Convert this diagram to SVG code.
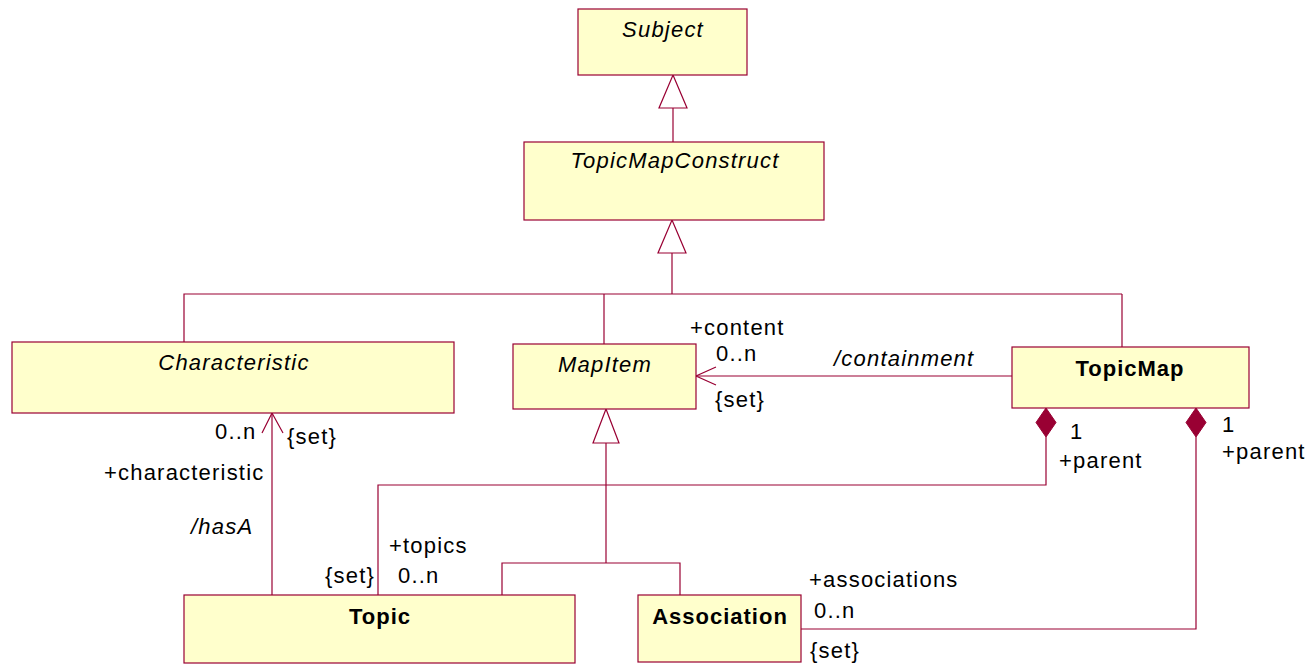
<svg xmlns="http://www.w3.org/2000/svg" width="1307" height="665" viewBox="0 0 1307 665">
<style>
.box{fill:#FFFFCC;stroke:#990033;stroke-width:1.2}
.ln{fill:none;stroke:#990033;stroke-width:1.2}
.tri{fill:#FFFFFF;stroke:#990033;stroke-width:1.2}
.dia{fill:#990033;stroke:#990033;stroke-width:1}
text{font-family:"Liberation Sans",Arial,sans-serif;font-size:22px;fill:#000;letter-spacing:1.2px}
.it{font-style:italic}
.b{font-weight:bold;letter-spacing:1px}
.c{text-anchor:middle}
</style>
<rect width="1307" height="665" fill="#FFFFFF"/>
<g id="connectors">
<!-- TopicMapConstruct -> Subject -->
<line class="ln" x1="673" y1="108" x2="673" y2="142"/>
<polygon class="tri" points="673,75 687,108 659,108"/>
<!-- children -> TopicMapConstruct -->
<polyline class="ln" points="184,342 184,294 1122,294"/>
<line class="ln" x1="604" y1="294" x2="604" y2="344"/>
<line class="ln" x1="1122" y1="294" x2="1122" y2="347"/>
<line class="ln" x1="672" y1="253" x2="672" y2="294"/>
<polygon class="tri" points="672,220 686,253 658,253"/>
<!-- Topic/Association -> MapItem -->
<polyline class="ln" points="502,595 502,563 680,563 680,595"/>
<line class="ln" x1="606" y1="443" x2="606" y2="563"/>
<polygon class="tri" points="606,409 619,443 593,443"/>
<!-- containment -->
<line class="ln" x1="696" y1="376" x2="1012" y2="376"/>
<polyline class="ln" points="716,367 696,376 716,385"/>
<!-- hasA -->
<line class="ln" x1="272" y1="413" x2="272" y2="595"/>
<polyline class="ln" points="262,433 272,413 283,433"/>
<!-- TopicMap - Topic -->
<polyline class="ln" points="1046,437 1046,485 378,485 378,595"/>
<polygon class="dia" points="1046,408 1056,422.5 1046,437 1036,422.5"/>
<!-- TopicMap - Association -->
<polyline class="ln" points="1196,437 1196,629 801,629"/>
<polygon class="dia" points="1196,408 1206,422.5 1196,437 1186,422.5"/>
<!-- labels -->
<text x="690" y="335">+content</text>
<text x="716" y="361">0..n</text>
<text x="715" y="407">{set}</text>
<text x="834" y="366" class="it">/containment</text>
<text x="215" y="439">0..n</text>
<text x="287" y="444">{set}</text>
<text x="104" y="480">+characteristic</text>
<text x="191" y="534" class="it">/hasA</text>
<text x="389" y="553">+topics</text>
<text x="325" y="583">{set}</text>
<text x="398" y="583">0..n</text>
<text x="1070" y="439">1</text>
<text x="1059" y="468">+parent</text>
<text x="1222" y="432">1</text>
<text x="1222" y="459">+parent</text>
<text x="809" y="587">+associations</text>
<text x="814" y="618">0..n</text>
<text x="810" y="658">{set}</text>
</g>
<g id="Subject">
<rect class="box" x="578" y="9" width="169" height="66"/>
<text class="it c" x="663" y="37">Subject</text>
</g>
<g id="TopicMapConstruct">
<rect class="box" x="524" y="142" width="300" height="78"/>
<text class="it c" x="675" y="168">TopicMapConstruct</text>
</g>
<g id="Characteristic">
<rect class="box" x="12" y="342" width="442" height="71"/>
<text class="it c" x="234" y="370">Characteristic</text>
</g>
<g id="MapItem">
<rect class="box" x="513" y="344" width="183" height="65"/>
<text class="it c" x="605" y="372">MapItem</text>
</g>
<g id="TopicMap">
<rect class="box" x="1012" y="347" width="237" height="61"/>
<text class="b c" x="1130" y="376">TopicMap</text>
</g>
<g id="Topic">
<rect class="box" x="184" y="595" width="391" height="68"/>
<text class="b c" x="380" y="624">Topic</text>
</g>
<g id="Association">
<rect class="box" x="638" y="595" width="163" height="67"/>
<text class="b c" x="720" y="624">Association</text>
</g>
</svg>
